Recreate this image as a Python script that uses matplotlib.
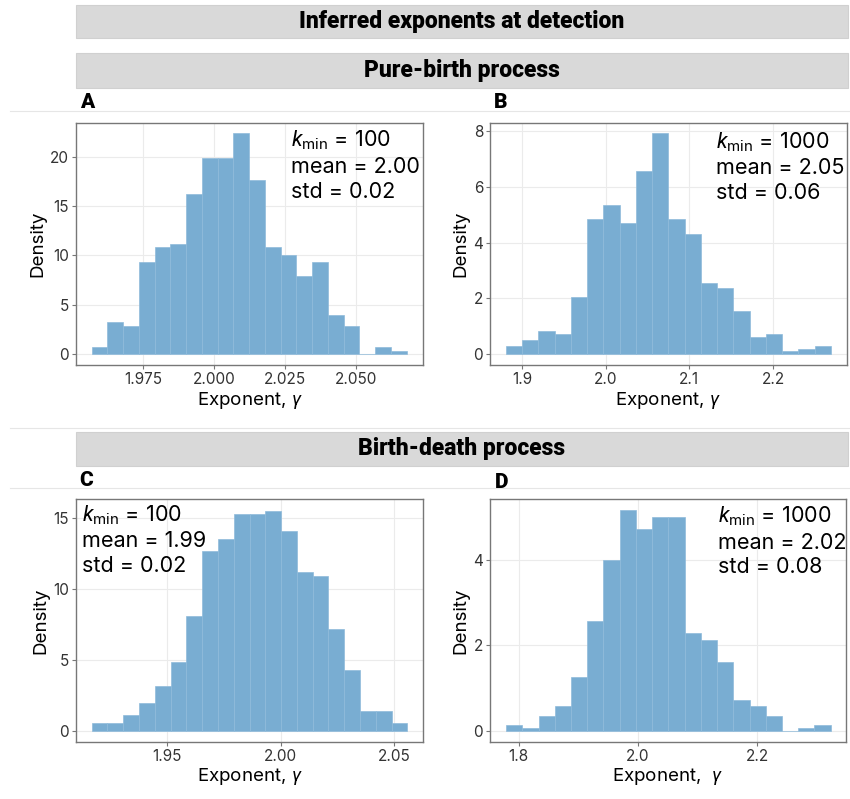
import numpy as np
import matplotlib
matplotlib.use("Agg")
import matplotlib.pyplot as plt
from matplotlib.patches import Rectangle
from matplotlib.lines import Line2D

plt.rcParams['font.family'] = ['Inter', 'DejaVu Sans']
plt.rcParams['mathtext.fontset'] = 'custom'
plt.rcParams['mathtext.rm'] = 'Inter'
plt.rcParams['mathtext.it'] = 'Roboto:italic'

# -----------------------------
# data (densities, 20 bins per panel)
# -----------------------------

bins_a = (1.9568, 2.0678)
dens_a = [0.68, 3.24, 2.87, 9.36, 10.84, 11.18, 16.18, 19.83, 19.83, 22.36,
          17.64, 10.84, 10.07, 7.94, 9.36, 3.95, 2.87, 0.0, 0.68, 0.34]
stats_a = ("100", "2.00", "0.02")

bins_b = (1.8808, 2.269)
dens_b = [0.30, 0.50, 0.83, 0.72, 2.05, 4.83, 5.35, 4.72, 6.58, 7.92,
          4.83, 4.32, 2.56, 2.36, 1.54, 0.61, 0.72, 0.10, 0.20, 0.30]
stats_b = ("1000", "2.05", "0.06")

bins_c = (1.917, 2.0557)
dens_c = [0.54, 0.54, 1.12, 1.99, 3.14, 4.87, 8.06, 12.66, 13.48, 15.23,
          15.23, 15.49, 14.08, 11.20, 10.92, 7.15, 4.29, 1.43, 1.43, 0.54]
stats_c = ("100", "1.99", "0.02")

bins_d = (1.779, 2.323)
dens_d = [0.15, 0.07, 0.36, 0.58, 1.25, 2.57, 3.99, 5.15, 4.71, 5.00,
          5.00, 2.28, 2.12, 1.61, 0.73, 0.58, 0.36, 0.0, 0.07, 0.15]
stats_d = ("1000", "2.02", "0.08")

W, H = 850, 799
bar_color = '#79add2'

fig = plt.figure(figsize=(W / 100, H / 100), dpi=100)


def px_rect(left, top, right, bottom):
    return [left / W, 1 - bottom / H, (right - left) / W, (bottom - top) / H]


def strip(top, bottom, label):
    fig.patches.append(Rectangle((76 / W, 1 - bottom / H), (848 - 76) / W, (bottom - top) / H,
                                 transform=fig.transFigure, facecolor='#d9d9d9',
                                 edgecolor='#d0d0d0', linewidth=0.8))
    fig.text((76 + 848) / 2 / W, 1 - (top + bottom) / 2 / H, label, ha='center', va='center',
             fontsize=16.5, fontweight='heavy', family='Roboto')


def hline(y):
    fig.lines.append(Line2D([10 / W, 1], [1 - y / H, 1 - y / H], transform=fig.transFigure,
                            color='#e6e6e6', linewidth=0.8))


def panel(rect, bins, dens, stats, xlim, ylim, xticks, yticks, xfmt, txt_xy, letter, letter_xy,
          xlabel='Exponent, $\\it{\\gamma}$'):
    ax = fig.add_axes(px_rect(*rect))
    edges = np.linspace(bins[0], bins[1], len(dens) + 1)
    ax.bar(edges[:-1], dens, width=np.diff(edges), align='edge', color=bar_color,
           edgecolor='#8fbbdb', linewidth=0.5, zorder=2)
    ax.set_xlim(*xlim)
    ax.set_ylim(*ylim)
    ax.set_xticks(xticks)
    ax.set_xticklabels([xfmt.format(t) for t in xticks])
    ax.set_yticks(yticks)
    ax.grid(True, color='#ebebeb', linewidth=0.8, zorder=0)
    ax.set_axisbelow(True)
    for s in ax.spines.values():
        s.set_color('#777777')
        s.set_linewidth(1.0)
    ax.tick_params(length=3, width=0.8, color='#777777', labelsize=11,
                   labelcolor='#333333', pad=2)
    ax.set_xlabel(xlabel, fontsize=13.5, labelpad=2)
    ax.set_ylabel('Density', fontsize=13.5, labelpad=3)
    ax.text(txt_xy[0], txt_xy[1],
            '$\\mathit{k}_{\\mathrm{min}}$ = ' + stats[0] + '\nmean = ' + stats[1] + '\nstd = ' + stats[2],
            transform=ax.transAxes, ha='left', va='top', fontsize=15.5, linespacing=1.3)
    fig.text(letter_xy[0] / W, 1 - letter_xy[1] / H, letter, fontsize=15, fontweight='heavy',
             ha='left', va='center', family='Roboto')
    return ax


strip(5, 38, 'Inferred exponents at detection')
strip(53, 88, 'Pure-birth process')
strip(432, 466, 'Birth-death process')
hline(110.5)
hline(428)
hline(488)

panel((76, 122.7, 423, 365), bins_a, dens_a, stats_a, (1.9513, 2.0736), (-1.11, 23.45),
      [1.975, 2.0, 2.025, 2.05], [0, 5, 10, 15, 20], '{:.3f}', (0.62, 0.975), 'A', (80, 102))
panel((490, 122.7, 846.7, 365), bins_b, dens_b, stats_b, (1.8617, 2.288), (-0.39, 8.30),
      [1.9, 2.0, 2.1, 2.2], [0, 2, 4, 6, 8], '{:.1f}', (0.633, 0.97), 'B', (494, 102))
panel((76, 499.3, 423, 741.7), bins_c, dens_c, stats_c, (1.9101, 2.0626), (-0.75, 16.29),
      [1.95, 2.0, 2.05], [0, 5, 10, 15], '{:.2f}', (0.018, 0.985), 'C', (79, 481))
panel((490, 499.3, 846, 741.7), bins_d, dens_d, stats_d, (1.752, 2.3486), (-0.249, 5.41),
      [1.8, 2.0, 2.2], [0, 2, 4], '{:.1f}', (0.64, 0.98), 'D', (495, 483),
      xlabel='Exponent,  $\\it{\\gamma}$')

fig.savefig('out.png', dpi=100)
